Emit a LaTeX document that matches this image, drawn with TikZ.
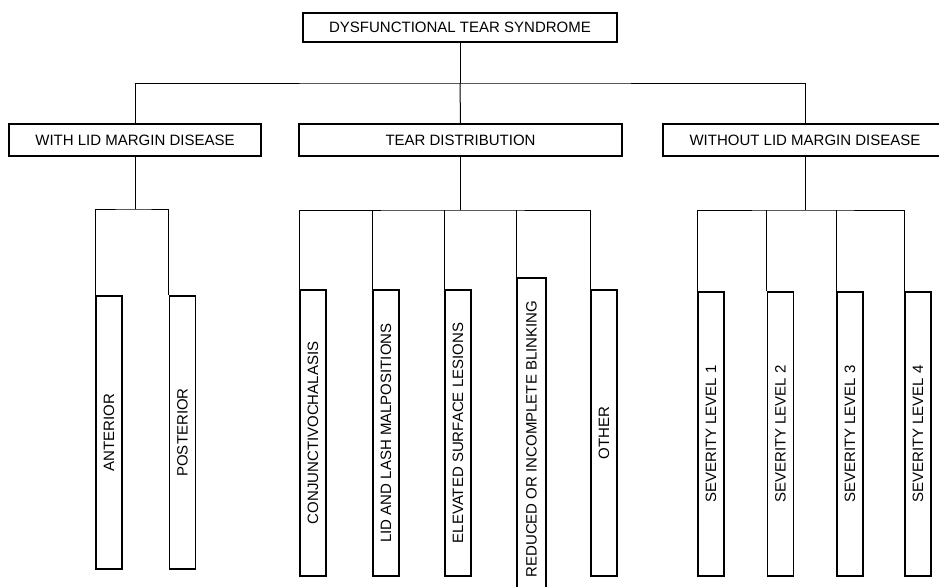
\documentclass[tikz,border=0pt]{standalone}
\usepackage{fontspec}
\setmainfont{Liberation Sans}
\usepackage{tikz}

\begin{document}
\begin{tikzpicture}[x=1pt,y=-1pt,
  box/.style={draw,line width=1.6pt,inner sep=0pt,font=\fontsize{15}{17}\selectfont},
  leaf/.style={box,minimum width=26pt},
  link/.style={line width=1pt}]
  \useasboundingbox (0,0) rectangle (939,586);
  \clip (0,0) rectangle (939,586);
  \node[box,minimum width=314pt,minimum height=29pt] (dts) at (460,27.5) {DYSFUNCTIONAL TEAR SYNDROME};
  \node[box,minimum width=252pt,minimum height=32pt] (wlmd) at (135,140) {WITH LID MARGIN DISEASE};
  \node[box,minimum width=323pt,minimum height=32pt] (td) at (460.5,140) {TEAR DISTRIBUTION};
  \node[box,minimum width=284pt,minimum height=32pt] (wolmd) at (805,140) {WITHOUT LID MARGIN DISEASE};
  \node[leaf,minimum height=273pt] (ant) at (109,432.5) {\rotatebox{90}{ANTERIOR}};
  \node[leaf,minimum height=273pt] (post) at (182.5,432.5) {\rotatebox{90}{POSTERIOR}};
  \node[leaf,minimum height=286pt] (cj) at (313,433) {\rotatebox{90}{CONJUNCTIVOCHALASIS}};
  \node[leaf,minimum height=286pt] (ll) at (386,433) {\rotatebox{90}{LID AND LASH MALPOSITIONS}};
  \node[leaf,minimum height=286pt] (el) at (458,433) {\rotatebox{90}{ELEVATED SURFACE LESIONS}};
  \node[leaf,minimum width=29pt,minimum height=322pt] (rb) at (531.5,439) {\rotatebox{90}{REDUCED OR INCOMPLETE BLINKING}};
  \node[leaf,minimum height=286pt] (ot) at (604,433) {\rotatebox{90}{OTHER}};
  \node[leaf,minimum height=284pt] (s1) at (711,434) {\rotatebox{90}{SEVERITY LEVEL 1}};
  \node[leaf,minimum height=284pt] (s2) at (780.5,434) {\rotatebox{90}{SEVERITY LEVEL 2}};
  \node[leaf,minimum height=284pt] (s3) at (850,434) {\rotatebox{90}{SEVERITY LEVEL 3}};
  \node[leaf,minimum height=284pt] (s4) at (918,434) {\rotatebox{90}{SEVERITY LEVEL 4}};
  \coordinate (b0) at (460,83);
  \coordinate (b1) at (135,209);
  \coordinate (b2) at (460.5,210);
  \coordinate (b3) at (805,210);
  \draw[link] (dts.south) -- (b0);
  \draw[link] (wlmd.north) |- (b0) -| (wolmd.north);
  \draw[link] (b0) -- (td.north);
  \draw[link] (wlmd.south) -- (b1);
  \draw[link] (ant.north west) |- (b1) -| (post.north west);
  \draw[link] (td.south) -- (b2);
  \draw[link] (cj.north west) |- (b2) -| (ot.north west);
  \foreach \n in {ll,el,rb}
    \draw[link] (\n.north west) -- (\n.north west |- b2);
  \draw[link] (wolmd.south) -- (b3);
  \draw[link] (s1.north west) |- (b3) -| (s4.north west);
  \foreach \n in {s2,s3}
    \draw[link] (\n.north west) -- (\n.north west |- b3);
\end{tikzpicture}
\end{document}
